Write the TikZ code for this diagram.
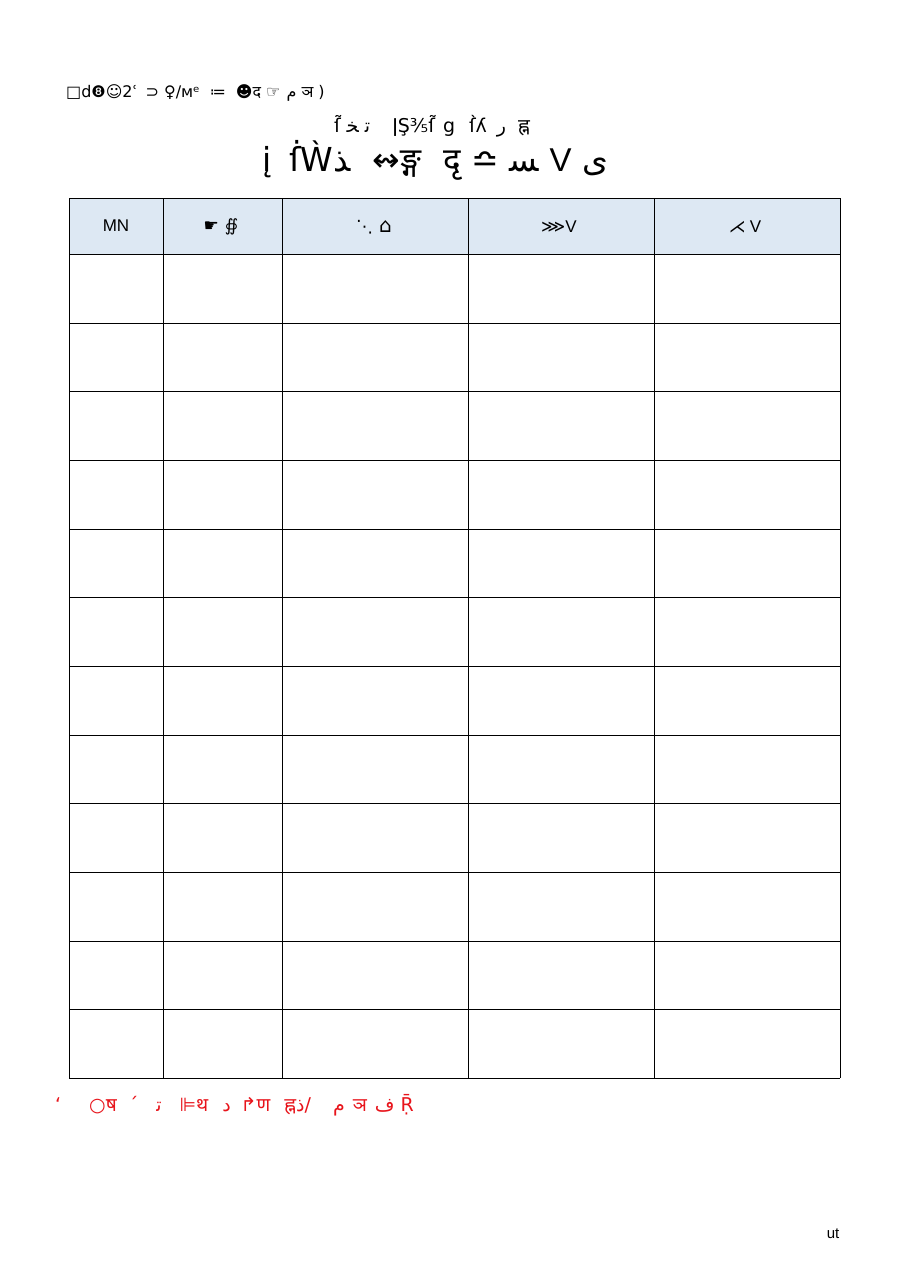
\documentclass[tikz,border=0pt]{standalone}
\usepackage{fontspec}
\TeXXeTstate=1
\setmainfont{DejaVu Sans}
\newfontfamily\lib{Liberation Sans}
\newfontfamily\dev[Script=Devanagari]{Noto Sans}
\newcommand{\ar}[1]{\beginR #1\endR}
\definecolor{hdr}{HTML}{DDE8F3}
\definecolor{redt}{HTML}{E8141B}
\tikzset{
  cellline/.style={draw=black, line width=0.8pt},
  hdrtext/.style={font=\lib\fontsize{17}{17}\selectfont, anchor=center},
  hdrsym/.style={font=\fontsize{17}{17}\selectfont, anchor=center},
}
\begin{document}
\begin{tikzpicture}[x=1pt,y=-1pt]
\useasboundingbox[fill=white] (0,0) rectangle (909,1286);
% header lines
\node[anchor=west, inner sep=0, font=\fontsize{16}{16}\selectfont] (l1) at (66,93)
 {□d❽☺2ʿ\hspace{8pt}⊃ ♀/ᴍᵉ\hspace{10pt}≔\hspace{10pt}☻{\dev द} ☞\hspace{6pt}\ar{ﻡ} {\dev ञ} )};
\node[anchor=center, inner sep=0, font=\fontsize{19}{19}\selectfont] (l2) at (432,126)
 {ſ̃\hspace{6pt}\ar{ﺨ}\hspace{6pt}\ar{ﺗ}\hspace{22pt}ǀŞ⅗ſ̃\hspace{8pt}ց\hspace{14pt}ſ̀ʎ\hspace{10pt}\ar{ﺭ}\hspace{12pt}{\dev ह्न}};
\node[anchor=center, inner sep=0, font=\fontsize{33}{33}\selectfont] (l3) at (435,160)
 {į\hspace{18pt}ẛẀ\ar{ﺬ}\hspace{22pt}↭{\dev ङ्ग}\hspace{22pt}{\dev दृ} ≏ \ar{ﺴ} {\lib V} \ar{ﻯ}};
% table
\fill[hdr] (69,198) rectangle (840,254);
\foreach \y in {198,254,323,391,460,529,597,666,735,803,872,941,1009,1078}
  \draw[cellline] (69,\y) -- (840,\y);
\foreach \x in {69,163,282,468,654,840}
  \draw[cellline] (\x,198) -- (\x,1078);
\node[hdrtext] (h1) at (116,226) {MN};
\node[hdrsym] (h2) at (221,227) {☛\hspace{6pt}∯};
\node[hdrsym] (h3) at (374,227) {⋱\hspace{6pt}{\fontsize{20}{20}\selectfont⌂}};
\node[hdrsym] (h4) at (559,227) {⋙{\lib V}};
\node[hdrsym] (h5) at (745,227) {⋌\hspace{4pt}{\lib V}};
% red note
\node[anchor=west, inner sep=0, text=redt, font=\fontsize{19}{19}\selectfont] (note) at (55,1105)
 {`\hspace{28pt}○{\dev ष}\hspace{12pt}´\hspace{18pt}\ar{ﺗ}\hspace{18pt}⊫{\dev थ}\hspace{14pt}\ar{ﺩ}\hspace{10pt}↱{\dev ण}\hspace{14pt}{\dev ह्न}\ar{ﺫ}/\hspace{22pt}\ar{ﻡ}\hspace{8pt}{\dev ञ}\hspace{8pt}\ar{ﻑ}\hspace{6pt}Ṝ};
% page number
\node[anchor=center, inner sep=0, font=\lib\fontsize{15}{15}\selectfont] (pg) at (833,1234) {ut};
\end{tikzpicture}
\end{document}
